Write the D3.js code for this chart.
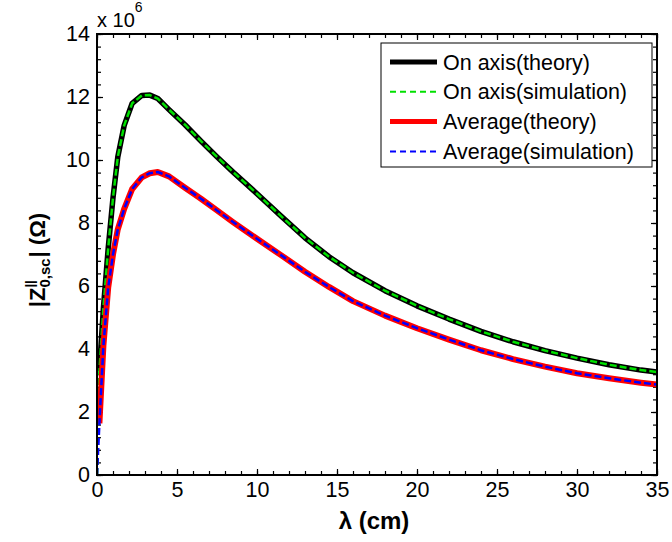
<!DOCTYPE html>
<html>
<head>
<meta charset="utf-8">
<script src="https://cdn.jsdelivr.net/npm/d3@7"></script>
<style>
  body { margin: 0; background: #fff; }
  text { font-family: "Liberation Sans", Arial, sans-serif; }
</style>
</head>
<body>
<div id="chart"></div>
<script>
// wavelength (cm) for the theory curves
var lambda = [0.15, 0.4, 0.7, 1.0, 1.3, 1.7, 2.2, 2.8, 3.3, 3.8, 4.5, 5.5, 6.5, 7.5, 8.5,
              10, 11.5, 13, 14.5, 16, 18, 20, 22, 24, 26, 28, 30, 32, 34, 35];
// |Z| in units of 1e6 ohm
var onAxisTheory = [3.3, 5.3, 7.2, 8.8, 10.1, 11.1, 11.8, 12.05, 12.06, 11.95, 11.6, 11.12, 10.6, 10.1, 9.62,
                    8.93, 8.22, 7.53, 6.93, 6.42, 5.85, 5.37, 4.95, 4.56, 4.23, 3.95, 3.71, 3.5, 3.33, 3.27];
var averageTheory = [1.64, 4.1, 5.95, 7.0, 7.8, 8.45, 9.08, 9.45, 9.58, 9.62, 9.48, 9.12, 8.77, 8.4, 8.03,
                     7.5, 6.98, 6.45, 5.97, 5.52, 5.06, 4.66, 4.3, 3.96, 3.68, 3.44, 3.23, 3.07, 2.93, 2.87];

// simulation runs start at the origin
var lambdaSim = [0, 0.15, 0.4, 0.7, 1.0, 1.3, 1.7, 2.2, 2.8, 3.3, 3.8, 4.5, 5.5, 6.5, 7.5, 8.5,
                 10, 11.5, 13, 14.5, 16, 18, 20, 22, 24, 26, 28, 30, 32, 34, 35];
var onAxisSim = [0, 3.3, 5.3, 7.2, 8.8, 10.1, 11.1, 11.8, 12.05, 12.06, 11.95, 11.6, 11.12, 10.6, 10.1, 9.62,
                 8.93, 8.22, 7.53, 6.93, 6.42, 5.85, 5.37, 4.95, 4.56, 4.23, 3.95, 3.71, 3.5, 3.33, 3.27];
var averageSim = [0, 1.64, 4.1, 5.95, 7.0, 7.8, 8.45, 9.08, 9.45, 9.58, 9.62, 9.48, 9.12, 8.77, 8.4, 8.03,
                  7.5, 6.98, 6.45, 5.97, 5.52, 5.06, 4.66, 4.3, 3.96, 3.68, 3.44, 3.23, 3.07, 2.93, 2.87];

var xTicks = [0, 5, 10, 15, 20, 25, 30, 35];
var yTicks = [0, 2, 4, 6, 8, 10, 12, 14];
var legendLabels = ["On axis(theory)", "On axis(simulation)", "Average(theory)", "Average(simulation)"];

var width = 672, height = 542;
var margin = {top: 34, right: 15, bottom: 67, left: 97},
    w = width - margin.left - margin.right,
    h = height - margin.top - margin.bottom;

var svg = d3.select("#chart").append("svg")
    .attr("width", width)
    .attr("height", height);

var g = svg.append("g")
    .attr("transform", "translate(" + margin.left + "," + margin.top + ")");

var x = d3.scaleLinear().domain([0, 35]).range([0, w]);
var y = d3.scaleLinear().domain([0, 14]).range([h, 0]);

var xMinor = d3.range(0, 35.01, 1);
var yMinor = d3.range(0, 14.01, 0.4);

function styleAxis(sel) {
  sel.select(".domain").remove();
  sel.selectAll("line").attr("stroke", "#000").attr("stroke-width", 1.2);
  sel.selectAll("text").attr("fill", "#000").style("font-size", "21.5px");
}

// minor ticks on all four sides
g.append("g").attr("transform", "translate(0," + h + ")")
  .call(d3.axisBottom(x).tickValues(xMinor).tickFormat("").tickSize(-4)).call(styleAxis);
g.append("g")
  .call(d3.axisTop(x).tickValues(xMinor).tickFormat("").tickSize(-4)).call(styleAxis);
g.append("g")
  .call(d3.axisLeft(y).tickValues(yMinor).tickFormat("").tickSize(-4)).call(styleAxis);
g.append("g").attr("transform", "translate(" + w + ",0)")
  .call(d3.axisRight(y).tickValues(yMinor).tickFormat("").tickSize(-4)).call(styleAxis);

// major ticks
g.append("g").attr("transform", "translate(0," + h + ")")
  .call(d3.axisBottom(x).tickValues(xTicks).tickSize(-6).tickPadding(6.5)).call(styleAxis);
g.append("g")
  .call(d3.axisTop(x).tickValues(xTicks).tickFormat("").tickSize(-6)).call(styleAxis);
g.append("g")
  .call(d3.axisLeft(y).tickValues(yTicks).tickSize(-6).tickPadding(7)).call(styleAxis);
g.append("g").attr("transform", "translate(" + w + ",0)")
  .call(d3.axisRight(y).tickValues(yTicks).tickFormat("").tickSize(-6)).call(styleAxis);

// lines
var line = d3.line()
    .x(function(d) { return x(d[0]); })
    .y(function(d) { return y(d[1]); });

var series = [
  {xs: lambda, ys: onAxisTheory, color: "#000", width: 5.5, dash: null},
  {xs: lambdaSim, ys: onAxisSim, color: "#00e000", width: 2.5, dash: "7,3"},
  {xs: lambda, ys: averageTheory, color: "#ff0000", width: 6, dash: null},
  {xs: lambdaSim, ys: averageSim, color: "#0000ff", width: 2.5, dash: "7,3"}
];

svg.append("defs").append("clipPath").attr("id", "clip")
  .append("rect").attr("width", w).attr("height", h);

g.append("g").attr("clip-path", "url(#clip)")
  .selectAll("path")
  .data(series)
  .enter().append("path")
  .attr("fill", "none")
  .attr("stroke", function(d) { return d.color; })
  .attr("stroke-width", function(d) { return d.width; })
  .attr("stroke-dasharray", function(d) { return d.dash; })
  .attr("stroke-linejoin", "round")
  .attr("d", function(d) { return line(d.xs.map(function(v, i) { return [v, d.ys[i]]; })); });

// box
g.append("rect")
  .attr("width", w).attr("height", h)
  .attr("fill", "none").attr("stroke", "#000").attr("stroke-width", 2);

// exponent
var ex = g.append("text").attr("x", 0).attr("y", -7).style("font-size", "20px").attr("fill", "#000");
ex.append("tspan").text("x 10");
ex.append("tspan").attr("dy", -15).style("font-size", "14px").text("6");

// legend
var legend = g.append("g").attr("transform", "translate(" + (381 - margin.left) + "," + (43 - margin.top) + ")");
legend.append("rect")
  .attr("width", 271).attr("height", 124)
  .attr("fill", "#fff").attr("stroke", "#000").attr("stroke-width", 1);

var rows = legend.selectAll(".row")
  .data(series)
  .enter().append("g")
  .attr("transform", function(d, i) { return "translate(0," + (19 + i * 29.8) + ")"; });

rows.append("line")
  .attr("x1", 9).attr("x2", 56)
  .attr("stroke", function(d) { return d.color; })
  .attr("stroke-width", function(d) { return d.dash ? 2 : 5; })
  .attr("stroke-dasharray", function(d) { return d.dash ? "6,4" : null; });

rows.append("text")
  .attr("x", 62).attr("dy", "0.35em")
  .style("font-size", "21.5px")
  .text(function(d, i) { return legendLabels[i]; });

// x label
svg.append("text")
  .attr("x", margin.left + w / 2 - 3).attr("y", 529)
  .attr("text-anchor", "middle")
  .style("font-size", "24px").style("font-weight", "bold")
  .text("\u03bb (cm)");

// y label |Z^||_{0,sc}| (Ω)
var yl = svg.append("g").attr("transform", "translate(45,260) rotate(-90)")
    .style("font-weight", "bold");
var parts = yl.append("g");
var cx = 0;
function piece(str, size, dy) {
  var t = parts.append("text").attr("x", cx).attr("y", dy).style("font-size", size + "px").text(str);
  return t.node().getComputedTextLength();
}
cx += piece("|Z", 22, 0);
var supW = piece("||", 13, -11);
var subW = piece("0,sc", 15, 5);
cx += Math.max(supW, subW) + 1;
cx += piece("| (\u03a9)", 22, 0);
parts.attr("transform", "translate(" + (-cx / 2) + ",0)");
</script>
</body>
</html>
